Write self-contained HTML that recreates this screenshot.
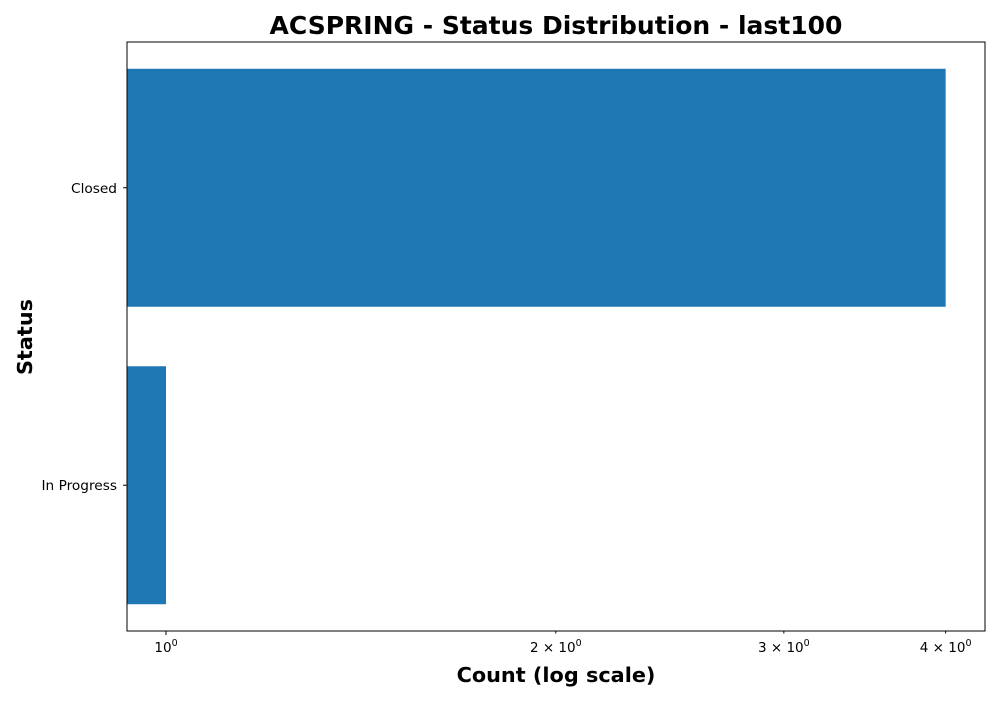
<!DOCTYPE html>
<html><head><meta charset="utf-8"><style>
body{margin:0;background:#fff;font-family:"Liberation Sans","DejaVu Sans",sans-serif;}
svg text{font-family:"DejaVu Sans","Liberation Sans",sans-serif;}
</style></head><body>
<svg id="chart" width="1000" height="700">
<text x="556" y="34" text-anchor="middle" font-size="25" font-weight="bold">ACSPRING - Status Distribution - last100</text>
<text x="556" y="682" text-anchor="middle" font-size="20.8" font-weight="bold">Count (log scale)</text>
<text transform="translate(32,337) rotate(-90)" text-anchor="middle" font-size="20.8" font-weight="bold">Status</text>
<g id="bars"></g><g id="ticks"></g>
<rect x="127" y="42" width="858" height="589" fill="none" stroke="#000" stroke-width="1"/>
</svg>
<script>
const categories = ["Closed", "In Progress"];
const counts = [4, 1];
const xTicks = [1, 2, 3, 4];
const xTickLabels = ["10", "2 × 10", "3 × 10", "4 × 10"];
const L=127,R=985,T=42,B=631;
const xmin=0.933,xmax=4.29;
function xs(v){return L+(Math.log10(v)-Math.log10(xmin))/(Math.log10(xmax)-Math.log10(xmin))*(R-L);}
const ymin=-0.49,ymax=1.49;
function ys(i){return T+(i-ymin)/(ymax-ymin)*(B-T);}
const NS="http://www.w3.org/2000/svg";
const bars=document.getElementById('bars'),ticks=document.getElementById('ticks');
categories.forEach((c,i)=>{
  const r=document.createElementNS(NS,'rect');
  const x1=Math.min(R,xs(counts[i]));
  r.setAttribute('x',L);r.setAttribute('width',Math.max(0,x1-L));
  r.setAttribute('y',ys(i-0.4));r.setAttribute('height',ys(i+0.4)-ys(i-0.4));
  r.setAttribute('fill','#1f77b4');
  
  
  bars.appendChild(r);
  const y=ys(i);
  const tl=document.createElementNS(NS,'line');
  tl.setAttribute('x1',L-4);tl.setAttribute('x2',L);tl.setAttribute('y1',y);tl.setAttribute('y2',y);tl.setAttribute('stroke','#000');
  
  
  ticks.appendChild(tl);
  const t=document.createElementNS(NS,'text');
  t.setAttribute('x',L-10);t.setAttribute('y',y+5);t.setAttribute('text-anchor','end');t.setAttribute('font-size','13.7');
  t.textContent=c;
  
  
  ticks.appendChild(t);
});
xTicks.forEach((v,k)=>{
  const x=xs(v);
  const tl=document.createElementNS(NS,'line');
  tl.setAttribute('x1',x);tl.setAttribute('x2',x);tl.setAttribute('y1',B);tl.setAttribute('y2',B+(k===0?4:2.5));tl.setAttribute('stroke','#000');
  
  
  ticks.appendChild(tl);
  const t=document.createElementNS(NS,'text');
  t.setAttribute('x',x);t.setAttribute('y',B+21);t.setAttribute('text-anchor','middle');t.setAttribute('font-size','13.5');
  t.textContent=xTickLabels[k];
  const s=document.createElementNS(NS,'tspan');
  s.setAttribute('dy','-6');s.setAttribute('font-size','9.5');s.textContent='0';
  t.appendChild(s);
  
  
  ticks.appendChild(t);
});
</script>
</body></html>
